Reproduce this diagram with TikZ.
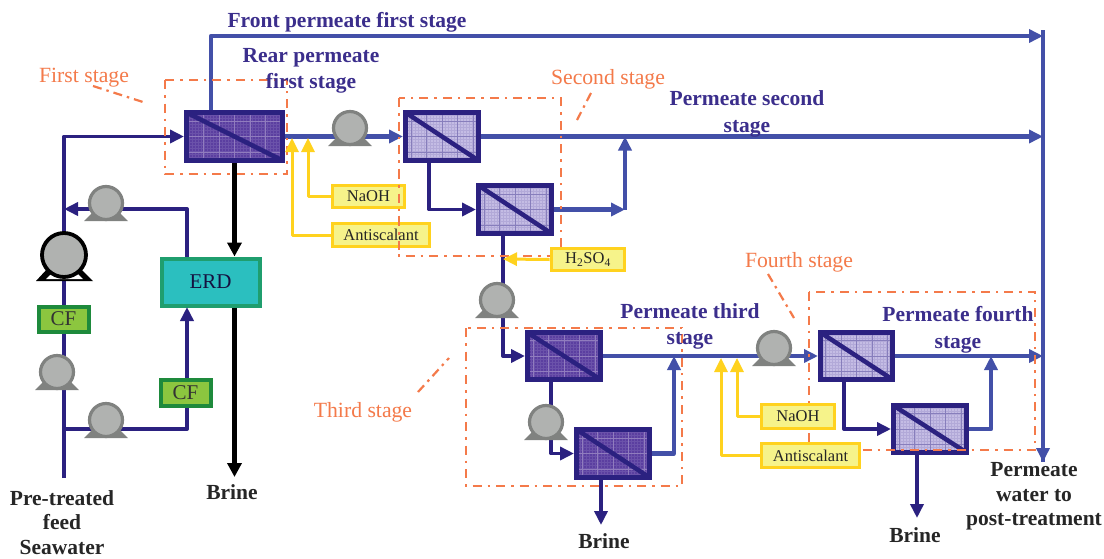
\documentclass[tikz,border=0pt]{standalone}
\usepackage{fontspec}
\setmainfont{Liberation Serif}
\usetikzlibrary{arrows.meta,calc}
\definecolor{permblue}{HTML}{4350A8}
\definecolor{navy}{HTML}{2B2180}
\definecolor{reagent}{HTML}{FFD21E}
\definecolor{reagentfill}{HTML}{F6F38A}
\definecolor{stageorange}{HTML}{F47A4A}
\definecolor{titleblue}{HTML}{3B2E8C}
\definecolor{darkfill}{HTML}{5B3FA0}
\definecolor{lightfill}{HTML}{C4BCE4}
\definecolor{pumpgray}{HTML}{B0B2B0}
\definecolor{pumpedge}{HTML}{808280}
\definecolor{erdfill}{HTML}{2BBFBF}
\definecolor{erdedge}{HTML}{1F9E6E}
\definecolor{cffill}{HTML}{8CC63F}
\definecolor{cfedge}{HTML}{1E8A3C}
\tikzset{
  x=1pt,y=-1pt,
  memdark/.style={draw=navy,line width=5pt,fill=darkfill,inner sep=0pt,
    path picture={
      \draw[white!10!darkfill,line width=0.3pt,step=3pt] (path picture bounding box.south west) grid (path picture bounding box.north east);
      \draw[white!32!darkfill,line width=1pt,step=15.5pt] (path picture bounding box.south west) grid (path picture bounding box.north east);
      \draw[navy,line width=4.5pt] (path picture bounding box.north west) -- (path picture bounding box.south east);
    }},
  memlight/.style={draw=navy,line width=5pt,fill=lightfill,inner sep=0pt,
    path picture={
      \draw[navy!12!lightfill,line width=0.3pt,step=3pt] (path picture bounding box.south west) grid (path picture bounding box.north east);
      \draw[navy!40!lightfill,line width=0.8pt,step=15.5pt] (path picture bounding box.south west) grid (path picture bounding box.north east);
      \draw[navy,line width=4.5pt] (path picture bounding box.north west) -- (path picture bounding box.south east);
    }},
  reagentbox/.style={draw=reagent,line width=3.8pt,fill=reagentfill,inner sep=0pt,font=\fontsize{16.5}{18}\selectfont,text=black!85},
  cfbox/.style={draw=cfedge,line width=4pt,fill=cffill,inner sep=0pt,font=\fontsize{21}{22}\selectfont,text=black!80},
  erdbox/.style={draw=erdedge,line width=4pt,fill=erdfill,inner sep=0pt,font=\fontsize{21}{22}\selectfont,text=navy!50!black},
  pumpnode/.style={circle,draw=pumpedge,line width=3.2pt,fill=pumpgray,minimum size=33pt,inner sep=0pt},
  bigpump/.style={circle,draw=black,line width=3.8pt,fill=pumpgray,minimum size=44pt,inner sep=0pt},
  bluepipe/.style={draw=permblue,line width=4.2pt,line join=round},
  navypipe/.style={draw=navy,line width=3.9pt,line join=round},
  blackpipe/.style={draw=black,line width=4.5pt},
  yellowpipe/.style={draw=reagent,line width=3pt,line join=round},
  tipb/.style={-{Triangle[length=14pt,width=13pt]}},
  stagebox/.style={draw=stageorange,line width=2.4pt,dash pattern=on 9pt off 6pt on 2.5pt off 6pt},
  leader/.style={draw=stageorange,line width=2.2pt,dash pattern=on 9pt off 5pt on 2.5pt off 5pt},
  stagelabel/.style={text=stageorange,font=\fontsize{21.7}{24}\selectfont,inner sep=0pt},
  permlabel/.style={text=titleblue,font=\bfseries\fontsize{21.5}{26.5}\selectfont,align=center,inner sep=0pt},
  blacklabel/.style={text=black!85,font=\bfseries\fontsize{21.5}{24.5}\selectfont,align=center,inner sep=0pt},
}
\newcommand{\mem}[6]{\node[#2,minimum width=#5-#3-5pt,minimum height=#6-#4-5pt] (#1) at ({(#3+#5)/2},{(#4+#6)/2}) {};}
\newcommand{\pumpat}[3]{%
  \fill[pumpedge] (#2-22,#3+18) -- (#2+22,#3+18) -- (#2+12,#3+8) -- (#2-12,#3+8) -- cycle;
  \node[pumpnode] (#1) at (#2,#3) {};}
\begin{document}
\begin{tikzpicture}
\useasboundingbox (0,0) rectangle (1104,558);
\fill[white] (0,0) rectangle (1104,558);

% anchors used by connectors
\coordinate (feedin) at (64,478);
\coordinate (tee) at (64,429);
\coordinate (recyc) at (64,209);
\coordinate (collect) at (1043,36);
\coordinate (collectend) at (1043,462);
\coordinate (brineB) at (601,525);
\coordinate (brineC) at (917,518);
\coordinate (frontA) at (211,110);
\coordinate (frontB) at (211,36);
\coordinate (riseA) at (625,136.5);
\coordinate (riseB) at (674,356);
\coordinate (riseC) at (991,356);
\coordinate (dosA) at (308,138);
\coordinate (dosB) at (292,138);
\coordinate (dosC) at (503,259);
\coordinate (dosD) at (737,358);
\coordinate (dosE) at (721,358);

% equipment
\mem{M1}{memdark}{184}{110}{285}{163}
\mem{M2}{memlight}{403}{110}{481}{163}
\mem{M3}{memlight}{476}{183}{554}{236}
\mem{M4}{memdark}{525}{330}{603}{382}
\mem{M5}{memdark}{574}{427}{652}{480}
\mem{M6}{memlight}{818}{330}{895}{382}
\mem{M7}{memlight}{891}{403}{969}{455}
\coordinate (brineA) at ($(M1.south)+(0,314)$);

% front permeate and collector
\draw[bluepipe,tipb] (frontA) -- (frontB) -- (collect);
\draw[bluepipe] ($(collect)+(0,-6)$) -- (collectend);
\draw[bluepipe,tipb] ($(collectend)+(0,-20)$) -- (collectend);
\draw[bluepipe,tipb] (M2.east) -- (M2.east -| collect);
\draw[bluepipe,tipb] (M1.east) -- (M2.west);
\draw[bluepipe,tipb] (M6.east) -- (M6.east -| collect);
\draw[bluepipe,tipb] (M4.east) -- (M6.west);

% feed side
\draw[navypipe,tipb] (feedin) -- (feedin |- M1.west) -- (M1.west);
\draw[navypipe] (tee) -- (187,429) -- (187,378);

% stage 2 to 4 links
\draw[bluepipe,tipb] (M3.east) -- (625,209.5);
\draw[bluepipe,tipb] (625,209.5) -- (riseA);
\draw[navypipe,tipb] (429,163) -- (429,209.5) -- (M3.west);
\draw[navypipe] (503,236) -- (503,285);
\draw[navypipe,tipb] (503,310) -- (503,356) -- (M4.west);
\draw[navypipe] (551,382) -- (551,410);
\draw[navypipe,tipb] (551,430) -- (551,453.5) -- (M5.west);
\draw[navypipe,tipb] (601,480) -- (brineB);
\draw[bluepipe,tipb] (M5.east) -- (674,453.5) -- (riseB);
\draw[navypipe,tipb] (844,382) -- (844,429) -- (M7.west);
\draw[bluepipe,tipb] (M7.east) -- (991,429) -- (riseC);
\draw[navypipe,tipb] (917,455) -- (brineC);

% stage boxes
\draw[stagebox] (165,80) rectangle (287,174);
\draw[stagebox] (466,328) rectangle (682,486);

% ERD, filters
\node[erdbox,minimum width=98pt,minimum height=47pt] (ERD) at (210.5,282) {ERD};
\node[cfbox,minimum width=50pt,minimum height=25pt] (CFa) at (63.5,319) {CF};
\node[cfbox,minimum width=50pt,minimum height=26pt] (CFb) at (185.5,392.5) {CF};
\draw[navypipe,tipb] (CFb.north -| 187,0) -- (187,307);
\draw[navypipe,tipb] (ERD.north -| 187,0) -- (187,209) -- (recyc);
\draw[blackpipe,-{Triangle[length=14pt,width=14pt]}] (M1.south) -- (M1.south |- ERD.north);
\draw[blackpipe,-{Triangle[length=14pt,width=14pt]}] (M1.south |- ERD.south) -- (brineA);

% pumps
\pumpat{Pa}{350}{128}
\pumpat{Pb}{106}{203}
\pumpat{Pc}{57}{372}
\pumpat{Pd}{106}{420}
\pumpat{Pe}{497}{300}
\pumpat{Pf}{546}{422}
\pumpat{Pg}{774}{348}
\fill[black] (36,281) -- (93,281) -- (80,268) -- (48,268) -- cycle;
\fill[white] (46,279) -- (83,279) -- (76,272) -- (53,272) -- cycle;
\node[bigpump] (Pmain) at (64,255) {};

% fourth stage box
\draw[stagebox] (809,292) rectangle (1035,450);
\draw[stagebox] (399,98) rectangle (561,256);

% dosing
\node[reagentbox,minimum width=72pt,minimum height=22pt] (NaOHa) at (368.5,196.5) {NaOH};
\node[reagentbox,minimum width=97pt,minimum height=23pt] (Antia) at (381,235) {Antiscalant};
\node[reagentbox,minimum width=73pt,minimum height=22pt] (Hacid) at (588,259.5) {H\textsubscript{2}SO\textsubscript{4}};
\node[reagentbox,minimum width=73pt,minimum height=24pt] (NaOHb) at (798,416.5) {NaOH};
\node[reagentbox,minimum width=98pt,minimum height=24pt] (Antib) at (810.5,455.5) {Antiscalant};
\draw[yellowpipe,tipb] (NaOHa.west) -- (dosA |- NaOHa.west) -- (dosA);
\draw[yellowpipe,tipb] (Antia.west) -- (dosB |- Antia.west) -- (dosB);
\draw[yellowpipe,tipb] (Hacid.west) -- (dosC);
\draw[yellowpipe,tipb] (NaOHb.west) -- (dosD |- NaOHb.west) -- (dosD);
\draw[yellowpipe,tipb] (Antib.west) -- (dosE |- Antib.west) -- (dosE);
\draw[stagebox] (399,170) -- (399,256);

% labels
\node[permlabel] (tFront) at (347,22.5) {Front permeate first stage};
\node[permlabel] (tRear) at (311,71) {Rear permeate\\first stage};
\node[permlabel] (tSecond) at (747,114) {Permeate second\\stage};
\node[permlabel] (tThird) at (690,326.5) {Permeate third\\stage};
\node[permlabel] (tFourth) at (958,330) {Permeate fourth\\stage};
\node[stagelabel] (sFirst) at (84,78) {First stage};
\node[stagelabel] (sSecond) at (608,79) {Second stage};
\node[stagelabel] (sThird) at (363,412) {Third stage};
\node[stagelabel] (sFourth) at (799,262) {Fourth stage};
\coordinate (lFirst) at (143,102);
\coordinate (lSecond) at (577,120);
\coordinate (lThird) at (449,358);
\coordinate (lFourth) at (794,318);
\draw[leader] (93,86) -- (lFirst);
\draw[leader] (591,93) -- (lSecond);
\draw[leader] (418,392) -- (lThird);
\draw[leader] (768,274) -- (lFourth);
\node[blacklabel] (tBrineA) at (232,492) {Brine};
\node[blacklabel] (tBrineB) at (604,541) {Brine};
\node[blacklabel] (tBrineC) at (915,535) {Brine};
\node[blacklabel] (tFeed) at (62,522.5) {Pre-treated\\feed\\Seawater};
\node[blacklabel] (tOut) at (1034,496.5) {Permeate\\water to\\post-treatment};
\end{tikzpicture}
\end{document}
